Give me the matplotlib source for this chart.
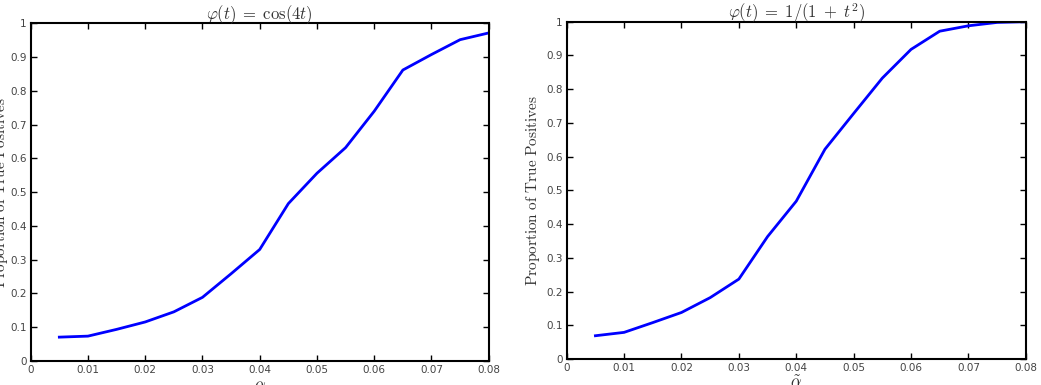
import matplotlib
matplotlib.use("Agg")
import matplotlib.pyplot as plt

plt.rcParams['mathtext.fontset'] = 'cm'

gamma = [0.005, 0.01, 0.015, 0.02, 0.025, 0.03, 0.035, 0.04, 0.045, 0.05,
         0.055, 0.06, 0.065, 0.07, 0.075, 0.08]
tp_cos = [0.070, 0.073, 0.093, 0.115, 0.145, 0.188, 0.258, 0.330, 0.466, 0.556,
          0.632, 0.740, 0.862, 0.908, 0.952, 0.972]
tp_cauchy = [0.069, 0.079, 0.108, 0.138, 0.182, 0.237, 0.363, 0.468, 0.622, 0.728,
             0.833, 0.918, 0.972, 0.988, 0.998, 1.0]

titles = [r"$\varphi(t)\;=\;\cos(4t)$", r"$\varphi(t)\;=\;1/(1\;+\;t^2)$"]
xlabels = [r"$\alpha$", r"$\tilde{\alpha}$"]
ylabel = r"$\mathrm{Proportion\ of\ True\ Positives}$"
xticks = [0, 0.01, 0.02, 0.03, 0.04, 0.05, 0.06, 0.07, 0.08]
xticklabels = ["0", "0.01", "0.02", "0.03", "0.04", "0.05", "0.06", "0.07", "0.08"]
yticks = [0, 0.1, 0.2, 0.3, 0.4, 0.5, 0.6, 0.7, 0.8, 0.9, 1]
yticklabels = ["0", "0.1", "0.2", "0.3", "0.4", "0.5", "0.6", "0.7", "0.8", "0.9", "1"]

fig = plt.figure(figsize=(10.41, 3.85), dpi=100)
axes = [fig.add_axes([0.0295, 0.063, 0.440, 0.876]),
        fig.add_axes([0.5444, 0.0675, 0.441, 0.876])]
series = [tp_cos, tp_cauchy]
ylabel_x = [-0.045, -0.054]

for ax, ys, title, xl, ylx in zip(axes, series, titles, xlabels, ylabel_x):
    ax.plot(gamma, ys, color=(0, 0, 1), lw=2)
    ax.set_xlim(0, 0.08)
    ax.set_ylim(0, 1)
    ax.set_xticks(xticks)
    ax.set_xticklabels(xticklabels)
    ax.set_yticks(yticks)
    ax.set_yticklabels(yticklabels)
    ax.tick_params(direction='in', length=4, width=1, top=True, right=True,
                   labelsize=7.5, labelcolor='#444444', pad=3)
    for sp in ax.spines.values():
        sp.set_linewidth(1.5)
    ax.set_title(title, fontsize=12, color='#333333', pad=3)
    ax.set_xlabel(xl, fontsize=12, color='#333333', labelpad=1)
    ax.set_ylabel(ylabel, fontsize=11, color='#333333')
    ax.yaxis.set_label_coords(ylx, 0.5)

fig.savefig("out.png", dpi=100)
